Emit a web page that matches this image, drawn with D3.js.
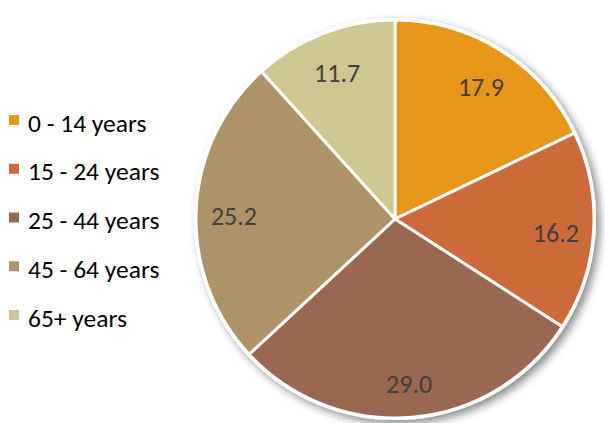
<!DOCTYPE html>
<html><head><meta charset="utf-8">
<script src="https://cdn.jsdelivr.net/npm/d3@7"></script>
<style>body{margin:0;background:#fff}svg{display:block}</style>
</head><body>
<svg id="c" width="605" height="423"></svg>
<script>
const categories = ["0 - 14 years","15 - 24 years","25 - 44 years","45 - 64 years","65+ years"];
const values = [17.9,16.2,29.0,25.2,11.7];
const colors = ["#E8961A","#CC6A3A","#9A6850","#AD9468","#CFC791"];

const svg = d3.select("#c");
const defs = svg.append("defs");
const f = defs.append("filter").attr("id","sh").attr("x","-20%").attr("y","-20%").attr("width","140%").attr("height","140%");
f.append("feDropShadow").attr("dx",4).attr("dy",4).attr("stdDeviation",4).attr("flood-color","#000").attr("flood-opacity",0.45);

const cx = 395, cy = 219, r = 199;
const pie = d3.pie().sort(null).value(d=>d);
const arcs = pie(values);
const arc = d3.arc().innerRadius(0).outerRadius(r);
const labelArc = d3.arc().innerRadius(r*0.81).outerRadius(r*0.81);

const g = svg.append("g").attr("transform",`translate(${cx},${cy})`);
g.append("circle").attr("r",r+2).attr("fill","#fff").attr("filter","url(#sh)");
g.selectAll("path").data(arcs).join("path")
  .attr("d",arc).attr("fill",(d,i)=>colors[i])
  .attr("stroke","#fff").attr("stroke-width",3).attr("stroke-linejoin","round");
g.selectAll("text").data(arcs).join("text")
  .attr("transform",d=>{const c=labelArc.centroid(d);return `translate(${c[0]},${c[1]+4})`;})
  .attr("text-anchor","middle").attr("dominant-baseline","central")
  .attr("font-family","Carlito, 'Open Sans', sans-serif").attr("font-size",26)
  .attr("fill","#404040").text(d=>d.data.toFixed(1));

const ly = d3.scalePoint().domain(categories).range([123,318]);
const lg = svg.append("g");
const item = lg.selectAll("g").data(categories).join("g")
  .attr("transform",d=>`translate(0,${ly(d)})`);
item.append("rect").attr("x",9).attr("y",-8).attr("width",10).attr("height",10)
  .attr("fill",(d,i)=>colors[i]);
item.append("text").attr("x",28).attr("dominant-baseline","central")
  .attr("font-family","Carlito, 'Open Sans', sans-serif").attr("font-size",25.5)
  .attr("fill","#000").text(d=>d);
</script>
</body></html>
